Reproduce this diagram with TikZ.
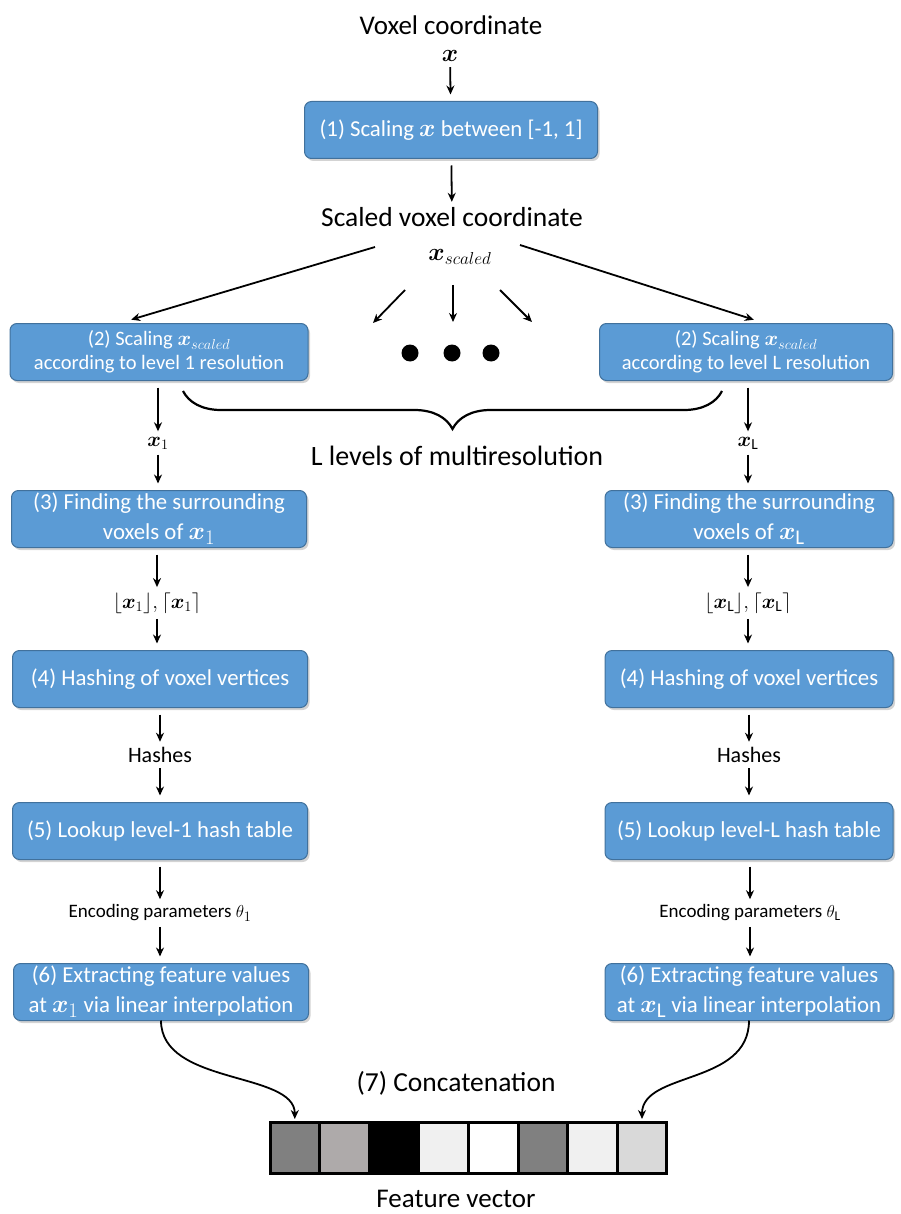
\documentclass[tikz,border=0pt]{standalone}
\usepackage{amsmath,bm}
\usepackage{fontspec}
\setmainfont{Carlito}
\usetikzlibrary{arrows.meta,shadows,decorations.pathreplacing}
\definecolor{boxblue}{HTML}{5B9BD5}
\definecolor{boxedge}{HTML}{41719C}
\definecolor{cellA}{HTML}{808080}
\definecolor{cellB}{HTML}{AEAAAA}
\definecolor{cellC}{HTML}{F0F0F0}
\definecolor{cellD}{HTML}{D9D9D9}
\begin{document}
\begin{tikzpicture}[x=1pt,y=-1pt,
  block/.style={draw=boxedge,fill=boxblue,text=white,rounded corners=7pt,line width=1pt,
    minimum width=293pt,minimum height=57pt,align=center,outer sep=5pt,inner sep=2pt,
    font=\fontsize{22.8}{30}\selectfont,
    drop shadow={opacity=0.35,shadow xshift=2pt,shadow yshift=-2.5pt}},
  lbl/.style={font=\fontsize{22}{26}\selectfont},
  arr/.style={-{Stealth[length=9pt,width=8pt]},line width=1.8pt,shorten <=2pt,shorten >=2pt},
  cell/.style={draw=black,line width=3pt,minimum width=49.6pt,minimum height=51pt,inner sep=0pt}]
\useasboundingbox (0,0) rectangle (900,1214);
% input and first scaling
\node[font=\fontsize{27}{30}\selectfont] (title) at (451,25) {Voxel coordinate};
\node[font=\fontsize{26}{28}\selectfont] (xin) at (450,56) {$\bm{x}$};
\node[block] (box1) at (451,130) {(1) Scaling {\fontsize{30}{30}\selectfont$\bm{x}$} between [-1, 1]};
\node[font=\fontsize{27.5}{30}\selectfont] (scaled) at (452,217) {Scaled voxel coordinate};
\node[font=\fontsize{25}{28}\selectfont] (xs) at (460,257) {$\bm{x}_{scaled}$};
\draw[arr] (xin) -- (box1);
\draw[arr] (box1) -- (scaled);
% level boxes
\node[block,minimum width=298pt,font=\fontsize{20.5}{23.5}\selectfont] (box2a) at (159,352) {(2) Scaling $\bm{x}_{scaled}$\\according to level 1 resolution};
\node[block,font=\fontsize{20.5}{23.5}\selectfont] (box2b) at (746,352) {(2) Scaling $\bm{x}_{scaled}$\\according to level L resolution};
\coordinate (sL) at (375,247);
\coordinate (sR) at (520,245);
\coordinate (m1a) at (405,290);
\coordinate (m1b) at (373,323);
\coordinate (m2a) at (453,285);
\coordinate (m2b) at (453,322);
\coordinate (m3a) at (500,290);
\coordinate (m3b) at (532,322);
\draw[arr,shorten <=0pt,shorten >=-4pt] (sL) -- ([xshift=-24pt]box2a.north);
\draw[arr,shorten <=0pt,shorten >=-4pt] (sR) -- ([xshift=4pt]box2b.north);
\draw[arr,shorten <=0pt,shorten >=0pt] (m1a) -- (m1b);
\draw[arr,shorten <=0pt,shorten >=0pt] (m2a) -- (m2b);
\draw[arr,shorten <=0pt,shorten >=0pt] (m3a) -- (m3b);
\fill (410,353) circle (8.5pt);
\fill (452,353) circle (8.5pt);
\fill (491,353) circle (8.5pt);
% brace
\coordinate (brL) at (183,391);
\coordinate (brR) at (722,391);
\draw[decorate,decoration={brace,amplitude=38pt,mirror},line width=2.2pt] (brL) -- (brR);
\node[font=\fontsize{28}{30}\selectfont] (multi) at (457,456) {L levels of multiresolution};
% level 1 column
\node[lbl] (x1) at (158,443) {$\bm{x}_1$};
\node[block,minimum width=295pt] (box3a) at (159,519) {(3) Finding the surrounding\\voxels of {\fontsize{30}{30}\selectfont$\bm{x}_1$}};
\node[lbl] (fl1) at (157,603) {$\lfloor\bm{x}_1\rfloor,\lceil\bm{x}_1\rceil$};
\node[block,minimum width=295pt] (box4a) at (160,679) {(4) Hashing of voxel vertices};
\node[lbl] (hash1) at (160,755) {Hashes};
\node[block,minimum width=295pt] (box5a) at (160,831) {(5) Lookup level-1 hash table};
\node[font=\fontsize{19}{22}\selectfont] (enc1) at (160,913) {Encoding parameters $\theta_1$};
\node[block,minimum width=295pt] (box6a) at (161,992) {(6) Extracting feature values\\at {\fontsize{30}{30}\selectfont$\bm{x}_1$} via linear interpolation};
\draw[arr] (box2a.south -| x1) -- (x1);
\draw[arr] (x1) -- (x1 |- box3a.north);
\draw[arr] (box3a.south -| fl1) -- (fl1);
\draw[arr] (fl1) -- (fl1 |- box4a.north);
\draw[arr] (box4a.south -| hash1) -- (hash1);
\draw[arr] (hash1) -- (hash1 |- box5a.north);
\draw[arr] (box5a.south -| enc1) -- (enc1);
\draw[arr] (enc1) -- (enc1 |- box6a.north);
% level L column
\node[lbl] (xL) at (748,443) {$\bm{x}_{\mathrm{L}}$};
\node[block,minimum width=288pt] (box3b) at (749,519) {(3) Finding the surrounding\\voxels of {\fontsize{30}{30}\selectfont$\bm{x}_{\mathrm{L}}$}};
\node[lbl] (flL) at (748,603) {$\lfloor\bm{x}_{\mathrm{L}}\rfloor,\lceil\bm{x}_{\mathrm{L}}\rceil$};
\node[block,minimum width=288pt] (box4b) at (749,679) {(4) Hashing of voxel vertices};
\node[lbl] (hashL) at (749,755) {Hashes};
\node[block,minimum width=288pt] (box5b) at (749,831) {(5) Lookup level-L hash table};
\node[font=\fontsize{19}{22}\selectfont] (encL) at (750,913) {Encoding parameters $\theta_{\mathrm{L}}$};
\node[block,minimum width=288pt] (box6b) at (749,992) {(6) Extracting feature values\\at {\fontsize{30}{30}\selectfont$\bm{x}_{\mathrm{L}}$} via linear interpolation};
\draw[arr] (box2b.south -| xL) -- (xL);
\draw[arr] (xL) -- (xL |- box3b.north);
\draw[arr] (box3b.south -| flL) -- (flL);
\draw[arr] (flL) -- (flL |- box4b.north);
\draw[arr] (box4b.south -| hashL) -- (hashL);
\draw[arr] (hashL) -- (hashL |- box5b.north);
\draw[arr] (box5b.south -| encL) -- (encL);
\draw[arr] (encL) -- (encL |- box6b.north);
% concatenation
\node[font=\fontsize{27.5}{30}\selectfont] (concat) at (456,1083) {(7) Concatenation};
\foreach \c [count=\i] in {cellA,cellB,black,cellC,white,cellA,cellC,cellD}
  \node[cell,fill=\c] (c\i) at ({294.8+49.6*(\i-1)},1148) {};
\node[font=\fontsize{27}{30}\selectfont] (featvec) at (456,1199) {Feature vector};
\draw[arr,shorten <=-5pt] (box6a.south) .. controls ([yshift=-60pt]box6a.south) and ([yshift=50pt]c1.north) .. (c1.north);
\draw[arr,shorten <=-5pt] (box6b.south) .. controls ([yshift=-60pt]box6b.south) and ([yshift=50pt]c8.north) .. (c8.north);
\end{tikzpicture}
\end{document}
